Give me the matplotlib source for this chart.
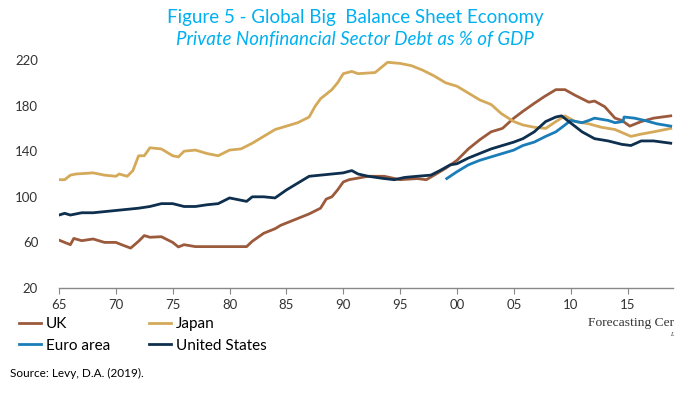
import matplotlib
matplotlib.use("Agg")
import matplotlib.pyplot as plt

# values (year, % of GDP)
uk_years = [1965, 1966, 1966.3, 1967, 1968, 1969, 1970, 1970.5, 1971.3, 1972, 1972.5, 1973, 1974,
            1975, 1975.5, 1976, 1977, 1981.5, 1982, 1983, 1984, 1984.5, 1985, 1986, 1987, 1988,
            1988.5, 1989, 1989.5, 1990, 1990.5, 1992.2, 1993.6, 1995, 1996.5, 1997.3, 1998, 1999,
            2000, 2001, 2002, 2003, 2004, 2005, 2005.8, 2006.8, 2007.7, 2008.7, 2009.5, 2010.4,
            2011.6, 2012.1, 2013, 2013.9, 2014.5, 2015.2, 2016.2, 2017.3, 2018.8]
uk_vals = [62, 58, 63.5, 61.5, 63, 60, 60, 58, 55, 61, 66, 64.5, 65,
           60, 56, 58, 56.3, 56.3, 61, 68, 72, 75, 77, 81, 85, 90,
           98, 100, 106, 113, 115, 118, 118, 115, 116, 115, 119, 125,
           132, 142, 150, 157, 160, 169, 175, 182, 188, 194, 194, 189,
           183, 184, 179, 169, 167, 162, 166, 169, 171]

japan_years = [1965, 1965.5, 1966, 1966.5, 1968, 1969, 1970, 1970.3, 1971, 1971.5, 1972, 1972.5,
               1973, 1974, 1975, 1975.5, 1976, 1977, 1978, 1979, 1980, 1981, 1982, 1983, 1984,
               1985, 1986, 1987, 1987.5, 1988, 1989, 1989.5, 1990, 1990.75, 1991.3, 1992.8,
               1993.9, 1995, 1996, 1997, 1998, 1999, 2000, 2001, 2002, 2003, 2003.9, 2005,
               2005.8, 2006.8, 2007.8, 2008.7, 2009.5, 2010.4, 2011.6, 2012.7, 2013.9, 2015.3,
               2016.2, 2017.3, 2018.8]
japan_vals = [115, 115, 119, 120, 121, 119, 118, 120, 118, 123, 136, 136,
              143, 142, 136, 135, 140, 141, 138, 136, 141, 142, 147, 153, 159,
              162, 165, 170, 179, 186, 194, 200, 208, 210, 208, 209,
              218, 217, 215, 211, 206, 200, 197, 191, 185, 181, 173, 166,
              163, 161, 160, 166, 171, 166, 164, 161, 159, 153,
              155, 157, 160]

euro_years = [1999.1, 2000, 2001, 2002, 2003, 2004, 2005, 2005.8, 2006.8, 2007.8, 2008.7, 2009.5,
              2010, 2011, 2011.6, 2012.1, 2013.3, 2013.9, 2014.6, 2014.7, 2015.6, 2016.5, 2017.6,
              2018.8]
euro_vals = [116, 122, 128, 132, 135, 138, 141, 145, 148, 153, 157, 163,
             167, 165, 167, 169, 167, 165, 166, 170, 169, 167, 164,
             162]

us_years = [1965, 1965.5, 1966, 1967, 1968, 1969, 1970, 1971, 1972, 1973, 1974, 1975, 1976, 1977,
            1978, 1979, 1980, 1981, 1981.5, 1982, 1983, 1984, 1985, 1986, 1987, 1988, 1989, 1990,
            1990.75, 1991.3, 1992.2, 1993.6, 1994.5, 1995.4, 1996.5, 1997.7, 1998.5, 1999.4, 2000,
            2001, 2002, 2003, 2004, 2005, 2005.8, 2006.8, 2007.8, 2008.7, 2009.2, 2010.1, 2011,
            2012.1, 2013.3, 2014.5, 2015.3, 2016.2, 2017.3, 2018.8]
us_vals = [84, 85.5, 84, 86, 86, 87, 88, 89, 90, 91.5, 94, 94, 91.5, 91.5,
           93, 94, 99, 97, 96, 100, 100, 99, 106, 112, 118, 119, 120, 121,
           123, 120, 118, 116, 115, 117, 118, 119, 123, 128, 129,
           134, 138, 142, 145, 148, 151, 157, 166, 170, 171, 164, 157,
           151, 149, 146, 145, 149, 149, 147]

yticks = [20, 60, 100, 140, 180, 220]
xticks = [1965, 1970, 1975, 1980, 1985, 1990, 1995, 2000, 2005, 2010, 2015]
xlabels = ["65", "70", "75", "80", "85", "90", "95", "00", "05", "10", "15"]

fig = plt.figure(figsize=(7, 3.94), dpi=100)
ax = fig.add_axes([59 / 700, 1 - 288 / 394, 614 / 700, 228 / 394])

lw = 2.0
l_uk, = ax.plot(uk_years, uk_vals, color="#9c5a3c", lw=lw, label="UK")
l_jp, = ax.plot(japan_years, japan_vals, color="#d4aa5a", lw=lw, label="Japan")
l_eu, = ax.plot(euro_years, euro_vals, color="#1b7db8", lw=lw, label="Euro area")
l_us, = ax.plot(us_years, us_vals, color="#0e2f4e", lw=lw, label="United States")

ax.set_xlim(1965, 2019)
ax.set_ylim(20, 220)
ax.set_yticks(yticks)
ax.set_xticks(xticks)
ax.set_xticklabels(xlabels)
for s in ["top", "right", "left"]:
    ax.spines[s].set_visible(False)
ax.spines["bottom"].set_color("#888888")
ax.spines["bottom"].set_linewidth(1)
ax.tick_params(axis="y", length=0, pad=15, labelsize=9.5, labelcolor="#333333")
ax.tick_params(axis="x", length=4, color="#888888", pad=4, labelsize=9.5, labelcolor="#333333")
for t in ax.get_xticklabels() + ax.get_yticklabels():
    t.set_family("Lato")

fig.text(0.507, 0.955, "Figure 5 - Global Big  Balance Sheet Economy", color="#00b0f0",
         fontsize=13.5, ha="center", va="center", family="Lato")
fig.text(0.507, 0.9, "Private Nonfinancial Sector Debt as % of GDP", color="#00b0f0",
         fontsize=13.5, ha="center", va="center", style="italic", family="Lato")

leg_kw = dict(loc="center left", frameon=False, handlelength=1.45, handletextpad=0.3,
              labelspacing=0.5, borderpad=0, borderaxespad=0,
              prop={"family": "Lato", "size": 11})
fig.legend(handles=[l_uk, l_eu], bbox_to_anchor=(19 / 700, 1 - 335 / 394), **leg_kw)
fig.legend(handles=[l_jp, l_us], bbox_to_anchor=(149 / 700, 1 - 335 / 394), **leg_kw)

fig.text(588 / 700, 1 - 323 / 394, "Forecasting Cer", fontsize=9.7, family="Liberation Serif",
         color="#333333", va="center", ha="left")
fig.text(670 / 700, 1 - 334 / 394, "L", fontsize=4.5, family="Liberation Serif", style="italic",
         color="#333333", va="center")
fig.text(10 / 700, 1 - 373 / 394, "Source: Levy, D.A. (2019).", fontsize=8.5, family="Lato",
         color="black", va="center")

fig.savefig("out.png", dpi=100)
